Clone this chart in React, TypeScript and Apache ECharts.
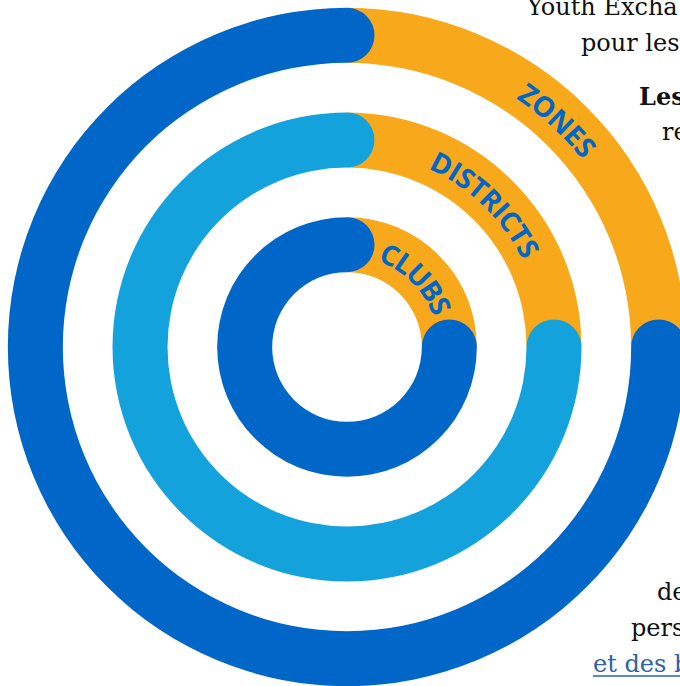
import React, { useEffect, useRef } from 'react';
import * as echarts from 'echarts';

// ---- data ----
const rings = ['CLUBS', 'DISTRICTS', 'ZONES'];
const goldShare = [25, 25, 25];
const blueShare = [75, 75, 75];
const blueColors = ['#0067C8', '#14A2DC', '#0067C8'];
const labelCenters = [12.57, 12.25, 11.9];

const sideTextLines = ['Youth Excha', 'pour les', 'Les', 're', 'de', 'pers', 'et des b'];

// ---- layout / style ----
const GOLD = '#F7A81B';
const LABEL_BLUE = '#0067C8';
const LABEL_FONT = 'bold 28px "Open Sans"';
const sideLayout = [
  { x: 527, y: 14, bold: false, link: false },
  { x: 581, y: 50, bold: false, link: false },
  { x: 639, y: 103, bold: true, link: false },
  { x: 662, y: 139, bold: false, link: false },
  { x: 657, y: 599, bold: false, link: false },
  { x: 631, y: 635, bold: false, link: false },
  { x: 593, y: 671, bold: false, link: true },
];

export default function App() {
  const ref = useRef<HTMLDivElement>(null);
  useEffect(() => {
    document.body.style.margin = '0';
    const chart = echarts.init(ref.current!, undefined, { renderer: 'svg' });
    const canvas = document.createElement('canvas');
    const ctx = canvas.getContext('2d')!;
    ctx.font = LABEL_FONT;
    const measure = (s: string) => ctx.measureText(s).width;
    const spacing = 0.3;

    const graphics: any[] = [];
    sideTextLines.forEach((t, i) => {
      const L = sideLayout[i];
      graphics.push({
        type: 'text',
        x: L.x,
        y: L.y - 7,
        style: {
          text: t,
          fill: L.link ? '#2F62A8' : '#111111',
          font: `${L.bold ? 'bold ' : ''}24px "DejaVu Serif"`,
          align: 'left',
          verticalAlign: 'middle',
        },
      });
      if (L.link) {
        graphics.push({
          type: 'line',
          shape: { x1: L.x, y1: L.y + 5, x2: 680, y2: L.y + 5 },
          style: { stroke: '#2F62A8', lineWidth: 1.5 },
        });
      }
    });

    chart.setOption({
      animation: false,
      polar: { center: [347, 347], radius: [50, 364] },
      angleAxis: { type: 'value', min: 0, max: 100, startAngle: 90, clockwise: true, show: false },
      radiusAxis: { type: 'category', data: rings, show: false },
      series: [
        {
          type: 'bar',
          coordinateSystem: 'polar',
          stack: 'ring',
          barWidth: 55,
          data: goldShare,
          itemStyle: { color: GOLD },
          silent: true,
        },
        {
          type: 'bar',
          coordinateSystem: 'polar',
          stack: 'ring',
          barWidth: 55,
          roundCap: true,
          data: blueShare.map((v, i) => ({ value: v, itemStyle: { color: blueColors[i] } })),
          silent: true,
        },
        {
          type: 'custom',
          coordinateSystem: 'polar',
          clip: false,
          silent: true,
          z: 10,
          data: labelCenters.map((c, i) => [i, c]),
          renderItem: (params: any, api: any) => {
            const idx = params.dataIndex;
            const cat = api.value(0);
            const mid = api.value(1);
            const text = rings[idx];
            const cs = params.coordSys;
            const p0 = api.coord([cat, 0]);
            const r = Math.hypot(p0[0] - cs.cx, p0[1] - cs.cy);
            const circ = 2 * Math.PI * r;
            const chars = text.split('');
            const widths = chars.map((ch) => measure(ch));
            const total = widths.reduce((a, b) => a + b, 0) + spacing * (chars.length - 1);
            let acc = mid - (total / circ) * 100 / 2;
            const children = chars.map((ch, i) => {
              const a = acc + ((widths[i] / 2) / circ) * 100;
              acc += ((widths[i] + spacing) / circ) * 100;
              const pt = api.coord([cat, a]);
              return {
                type: 'text',
                x: pt[0],
                y: pt[1],
                rotation: (-a * 3.6 * Math.PI) / 180,
                style: {
                  text: ch,
                  fill: LABEL_BLUE,
                  font: LABEL_FONT,
                  align: 'center',
                  verticalAlign: 'middle',
                },
              };
            });
            return { type: 'group', children };
          },
        },
      ],
      graphic: graphics,
    });
    return () => chart.dispose();
  }, []);
  return <div ref={ref} style={{ width: 680, height: 686 }} />;
}
